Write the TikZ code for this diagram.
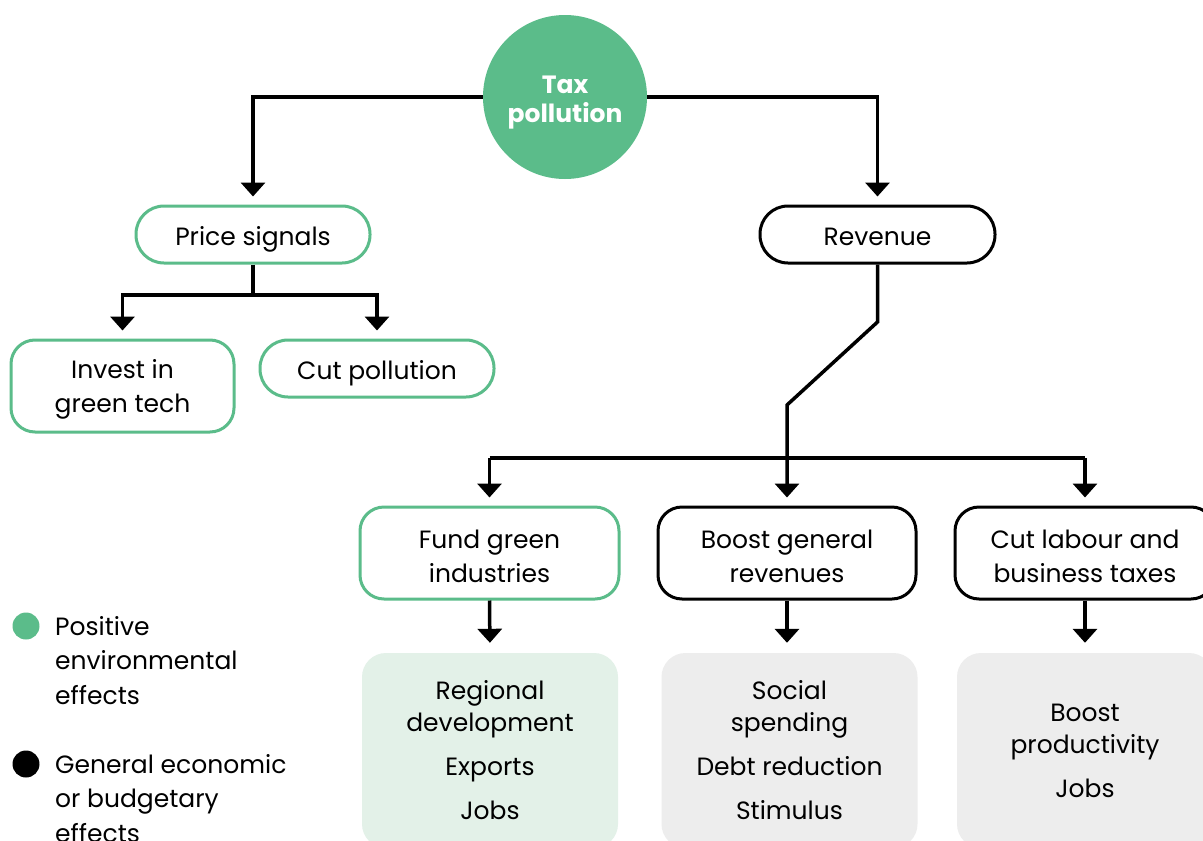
\documentclass[tikz,border=0pt]{standalone}
\usepackage{fontspec}
\setmainfont{Poppins}
\usetikzlibrary{arrows.meta}
\definecolor{grn}{HTML}{5BBC8A}
\definecolor{lgrn}{HTML}{E3F1E8}
\definecolor{lgray}{HTML}{EDEDED}
\newcommand{\mystrut}{\rule{0pt}{26pt}}
\tikzset{
  base/.style={font=\fontsize{25}{34}\selectfont, align=center, text=black, inner sep=0pt},
  one/.style={text height=24pt, text depth=2pt},
  pillg/.style={base, one, draw=grn, line width=3pt, rounded corners=28pt, minimum height=57pt, fill=white},
  pillk/.style={base, one, draw=black, line width=3pt, rounded corners=28pt, minimum height=57pt, fill=white},
  boxg/.style={base, draw=grn, line width=3pt, rounded corners=24pt, minimum height=92pt, fill=white},
  boxk/.style={base, draw=black, line width=3pt, rounded corners=24pt, minimum height=92pt, fill=white},
  outg/.style={base, font=\fontsize{25}{32}\selectfont, fill=lgrn, rounded corners=24pt, minimum height=195pt, minimum width=256pt},
  outk/.style={base, font=\fontsize{25}{32}\selectfont, fill=lgray, rounded corners=24pt, minimum height=195pt, minimum width=256pt},
  ln/.style={line width=3.5pt, draw=black},
  arr/.style={ln, -{Triangle[width=24pt,length=14pt]}, shorten >=8pt},
  legtxt/.style={base, align=left, anchor=west, font=\fontsize{25}{34.5}\selectfont},
}
\begin{document}
\begin{tikzpicture}[x=1pt,y=-1pt]
\useasboundingbox (0,0) rectangle (1203,841);
\clip (0,0) rectangle (1203,841);
\fill[white] (0,0) rectangle (1203,841);

% nodes
\node[circle, fill=grn, minimum size=164pt, inner sep=0pt] (tax) at (565,97) {};
\node[align=center, text=white, inner sep=0pt,
      font=\fontsize{25}{29}\selectfont\bfseries] (taxt) at (565,103) {Tax\\pollution};
\node[pillg, minimum width=234pt] (ps) at (253,234.5) {Price signals};
\node[pillk, minimum width=235pt] (rev) at (877.5,234.5) {Revenue};
\node[boxg, minimum width=223pt] (inv) at (122.5,386) {\mystrut Invest in\\green tech};
\node[pillg, minimum width=234pt] (cut) at (377,368.5) {Cut pollution};
\node[boxg, minimum width=259pt] (fgi) at (489.5,553) {\mystrut Fund green\\industries};
\node[boxk, minimum width=258pt] (bgr) at (787,553) {\mystrut Boost general\\revenues};
\node[boxk, minimum width=260pt] (clt) at (1085,553) {\mystrut Cut labour and\\business taxes};
\node[outg] (o1) at (490,750.5) {Regional\\development\\[12pt]Exports\\[12pt]Jobs};
\node[outk] (o2) at (789.5,750.5) {Social\\spending\\[12pt]Debt reduction\\[12pt]Stimulus};
\node[outk] (o3) at (1085,750.5) {Boost\\productivity\\[12pt]Jobs};

% legend
\node[circle, fill=grn, minimum size=27pt, inner sep=0pt] (lg) at (26,626) {};
\node[circle, fill=black, minimum size=27pt, inner sep=0pt] (lk) at (26,764) {};
\node[legtxt] (lgt) at (55,660.5) {Positive\\environmental\\effects};
\node[legtxt] (lkt) at (55,798.5) {General economic\\or budgetary\\effects};

% connectors
\coordinate (pj) at (253,295);
\coordinate (r1) at (877.5,322);
\coordinate (r2) at (787,405);
\coordinate (bl) at (489.5,458);
\coordinate (br) at (1085,458);

\draw[arr] (tax.west) -| (ps.north);
\draw[arr] (tax.east) -| (rev.north);
\draw[ln] (ps.south) -- (pj);
\draw[arr] (pj) -| (inv.north);
\draw[arr] (pj) -| (cut.north);
\draw[arr] (rev.south) -- (r1) -- (r2) -- (bgr.north);
\draw[ln] (bl) -- (br);
\draw[arr] (bl) -- (fgi.north);
\draw[arr] (br) -- (clt.north);
\draw[arr, shorten >=10pt] (fgi.south) -- (o1.north);
\draw[arr, shorten >=10pt] (bgr.south) -- (bgr.south |- o2.north);
\draw[arr, shorten >=10pt] (clt.south) -- (o3.north);
\end{tikzpicture}
\end{document}
